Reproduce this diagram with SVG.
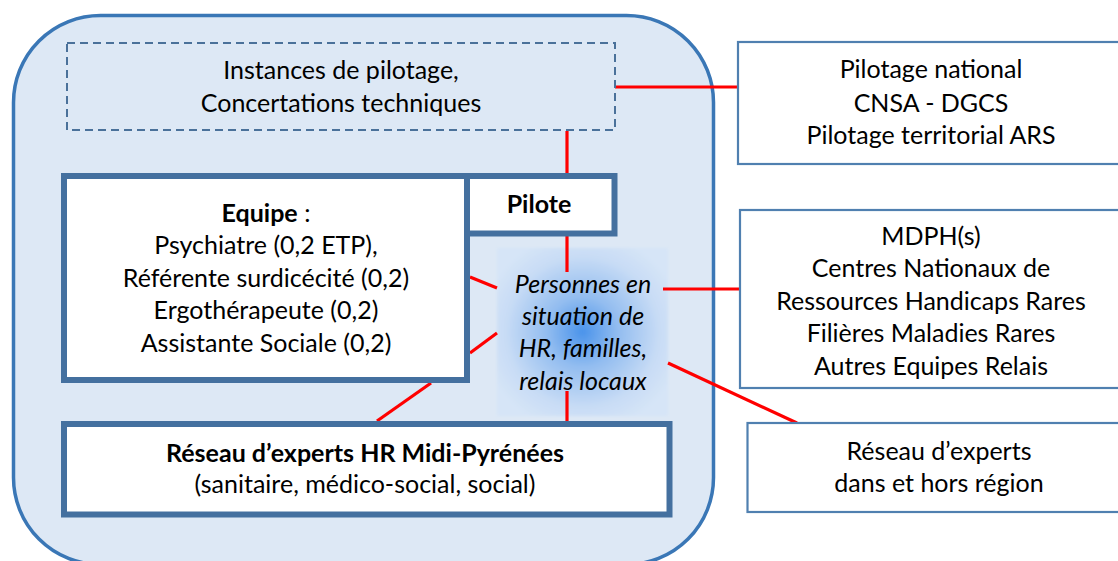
<svg xmlns="http://www.w3.org/2000/svg" width="1118" height="561" viewBox="0 0 1118 561">
<defs>
<style>
text{font-family:Lato,"Liberation Sans",sans-serif;font-size:25px;fill:#000;text-anchor:middle}
.b{font-weight:bold}
.i{font-style:italic}
.thick{fill:#fff;stroke:#44709f;stroke-width:6}
.thin{fill:#fff;stroke:#5080b0;stroke-width:2.2}
.con{stroke:#ff0000;stroke-width:3.2;fill:none}
</style>
<radialGradient id="glow" cx="0.5" cy="0.5" r="0.6">
<stop offset="0" stop-color="#4a93ea"/>
<stop offset="0.35" stop-color="#93bdf0"/>
<stop offset="0.75" stop-color="#c8dcf5"/>
<stop offset="1" stop-color="#d6e5f7"/>
</radialGradient>
<filter id="soft" x="-5%" y="-5%" width="110%" height="110%"><feGaussianBlur stdDeviation="1.5"/></filter>
</defs>
<g id="frame">
<rect x="13.5" y="15.5" width="700" height="549" rx="87" ry="87" fill="#dde8f5" stroke="#3a77b6" stroke-width="3.5"/>
</g>
<g id="personnes">
<rect x="497" y="248" width="171" height="168" fill="url(#glow)" filter="url(#soft)"/>
<text class="i" x="583" y="293">Personnes en</text>
<text class="i" x="583" y="325">situation de</text>
<text class="i" x="583" y="357">HR, familles,</text>
<text class="i" x="583" y="390">relais locaux</text>
</g>
<g id="connectors">
<line class="con" x1="615" y1="87" x2="738" y2="87"/>
<line class="con" x1="567" y1="131" x2="567" y2="174"/>
<line class="con" x1="567" y1="236" x2="567" y2="272"/>
<line class="con" x1="470" y1="277" x2="497" y2="288"/>
<line class="con" x1="470" y1="353" x2="497" y2="333"/>
<line class="con" x1="377" y1="421" x2="431" y2="383"/>
<line class="con" x1="567" y1="391" x2="567" y2="421"/>
<line class="con" x1="663" y1="289" x2="739" y2="289"/>
<line class="con" x1="668" y1="363" x2="797" y2="423"/>
</g>
<g id="instances">
<rect x="67" y="43" width="548" height="87" fill="none" stroke="#4a719a" stroke-width="2" stroke-dasharray="8,5"/>
<text x="341" y="79">Instances de pilotage,</text>
<text x="341" y="112">Concertations techniques</text>
</g>
<g id="equipe">
<rect class="thick" x="64" y="176" width="403" height="204"/>
<text x="266" y="222"><tspan class="b">Equipe</tspan> :</text>
<text x="266" y="254">Psychiatre (0,2 ETP),</text>
<text x="266" y="287">Référente surdicécité (0,2)</text>
<text x="266" y="319">Ergothérapeute (0,2)</text>
<text x="266" y="352">Assistante Sociale (0,2)</text>
</g>
<g id="pilote">
<rect class="thick" x="467" y="176" width="147.5" height="57.5"/>
<text class="b" x="539" y="213">Pilote</text>
</g>
<g id="reseau-hr">
<rect class="thick" x="64" y="424" width="605.5" height="90.5"/>
<text class="b" x="365" y="462">Réseau d’experts HR Midi-Pyrénées</text>
<text x="365" y="493">(sanitaire, médico-social, social)</text>
</g>
<g id="pilotage-national">
<rect class="thin" x="738" y="42" width="390" height="122"/>
<text x="931" y="78">Pilotage national</text>
<text x="931" y="112">CNSA - DGCS</text>
<text x="931" y="144">Pilotage territorial ARS</text>
</g>
<g id="mdph">
<rect class="thin" x="740" y="210" width="390" height="178"/>
<text x="931" y="245">MDPH(s)</text>
<text x="931" y="277">Centres Nationaux de</text>
<text x="931" y="310">Ressources Handicaps Rares</text>
<text x="931" y="342">Filières Maladies Rares</text>
<text x="931" y="375">Autres Equipes Relais</text>
</g>
<g id="reseau-experts">
<rect class="thin" x="747.5" y="423" width="390" height="89"/>
<text x="939" y="460">Réseau d’experts</text>
<text x="939" y="492">dans et hors région</text>
</g>
</svg>
